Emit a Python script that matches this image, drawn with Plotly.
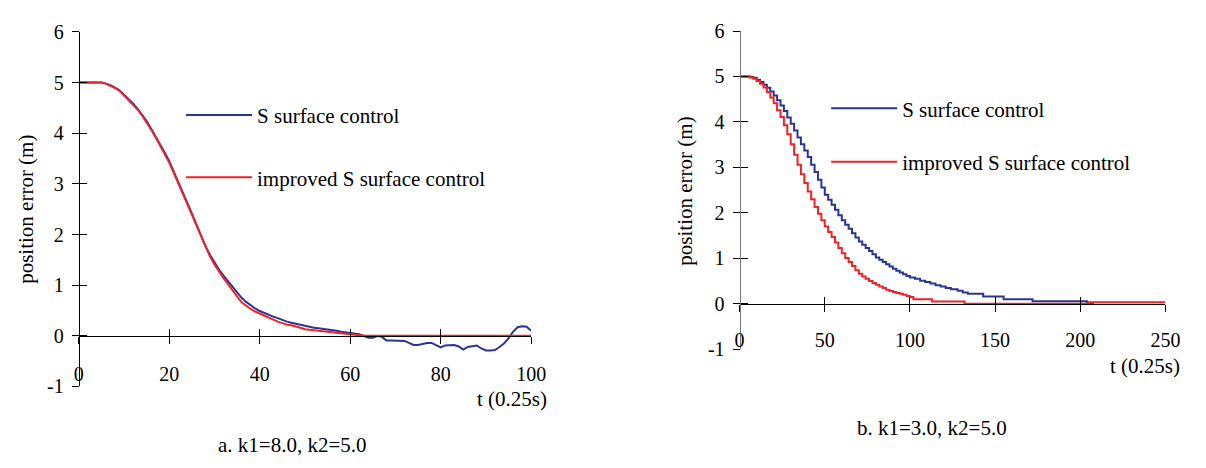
import plotly.graph_objects as go

# ---------------- data ----------------
# chart a: k1=8.0, k2=5.0  (t in units of 0.25 s, 0..100)
t_a = list(range(0, 101))
s_a = [5.00, 5.00, 5.00, 5.00, 5.00, 5.00, 4.98, 4.95, 4.90, 4.85,
       4.76, 4.68, 4.59, 4.48, 4.37, 4.24, 4.09, 3.94, 3.78, 3.62,
       3.45, 3.25, 3.03, 2.84, 2.64, 2.42, 2.20, 1.98, 1.77, 1.60,
       1.45, 1.31, 1.19, 1.08, 0.97, 0.85, 0.75, 0.67, 0.60, 0.54,
       0.49, 0.45, 0.41, 0.38, 0.35, 0.31, 0.28, 0.26, 0.24, 0.21,
       0.19, 0.18, 0.16, 0.15, 0.14, 0.13, 0.11, 0.10, 0.08, 0.07,
       0.05, 0.04, 0.03, 0.00, -0.04, -0.04, 0.00, -0.02, -0.09, -0.09,
       -0.09, -0.09, -0.10, -0.14, -0.18, -0.18, -0.16, -0.14, -0.14, -0.19,
       -0.23, -0.19, -0.18, -0.18, -0.21, -0.27, -0.22, -0.21, -0.19, -0.25,
       -0.29, -0.29, -0.28, -0.22, -0.15, -0.05, 0.08, 0.17, 0.19, 0.18,
       0.10]
imp_a = [5.00, 5.00, 5.00, 5.00, 5.00, 5.00, 4.98, 4.94, 4.89, 4.84,
         4.75, 4.67, 4.58, 4.47, 4.35, 4.22, 4.07, 3.92, 3.76, 3.60,
         3.42, 3.22, 3.01, 2.81, 2.61, 2.40, 2.17, 1.96, 1.75, 1.57,
         1.41, 1.27, 1.14, 1.02, 0.91, 0.78, 0.66, 0.59, 0.53, 0.48,
         0.44, 0.39, 0.35, 0.31, 0.28, 0.25, 0.22, 0.21, 0.19, 0.16,
         0.13, 0.12, 0.11, 0.10, 0.09, 0.07, 0.06, 0.05, 0.04, 0.04,
         0.03, 0.02, 0.00, 0.00, 0.00, 0.00, 0.00, 0.00, 0.00, 0.00,
         0.00, 0.00, 0.00, 0.00, 0.00, 0.00, 0.00, 0.00, 0.00, 0.00,
         0.00, 0.00, 0.00, 0.00, 0.00, 0.00, 0.00, 0.00, 0.00, 0.00,
         0.00, 0.00, 0.00, 0.00, 0.00, 0.00, 0.00, 0.00, 0.00, 0.00,
         0.00]

# chart b: k1=3.0, k2=5.0  (t 0..250)
t_b_s = list(range(0, 101, 2)) + [103, 106, 109, 112, 115, 118, 121, 124,
                                   128, 131, 134, 143, 155, 172, 204, 208]
s_b = [5.00, 5.00, 5.00, 4.99, 4.97, 4.93, 4.88, 4.82, 4.75, 4.67,
       4.58, 4.48, 4.36, 4.24, 4.10, 3.96, 3.81, 3.66, 3.51, 3.37,
       3.23, 3.06, 2.90, 2.73, 2.56, 2.40, 2.29, 2.18, 2.07, 1.95,
       1.84, 1.74, 1.65, 1.55, 1.46, 1.37, 1.30, 1.23, 1.16, 1.09,
       1.02, 0.97, 0.92, 0.87, 0.82, 0.77, 0.73, 0.69, 0.65, 0.61,
       0.58,
       0.55, 0.51, 0.48, 0.45, 0.41, 0.38, 0.35, 0.32,
       0.29, 0.25, 0.22, 0.16, 0.10, 0.055, 0.01, 0.01]
t_b_i = list(range(0, 101, 2)) + [102, 113, 132, 205, 250]
imp_b = [5.00, 5.00, 5.00, 4.98, 4.95, 4.90, 4.84, 4.76, 4.66, 4.54,
         4.41, 4.26, 4.11, 3.93, 3.73, 3.51, 3.28, 3.06, 2.85, 2.66,
         2.47, 2.30, 2.13, 1.98, 1.84, 1.70, 1.58, 1.47, 1.35, 1.23,
         1.11, 1.01, 0.92, 0.83, 0.74, 0.66, 0.60, 0.55, 0.50, 0.46,
         0.42, 0.38, 0.35, 0.31, 0.28, 0.26, 0.24, 0.22, 0.20, 0.17,
         0.15,
         0.10, 0.05, 0.00, 0.035, 0.035]

names = ["S surface control", "improved S surface control"]
captions = ["a. k1=8.0, k2=5.0", "b. k1=3.0, k2=5.0"]
x_ticks_a = [0, 20, 40, 60, 80, 100]
x_ticks_b = [0, 50, 100, 150, 200, 250]
y_ticks = [-1, 0, 1, 2, 3, 4, 5, 6]
y_ticktext = ["-1", "0", "1", "2", "3", "4", "5", "6"]
x_title = "t (0.25s)"
y_title = "position error (m)"

# ---------------- styling ----------------
BLUE = "#2b3590"
RED = "#ee2229"
FONT = "Liberation Serif"
FS_TICK = 20
FS = 21
W, H = 1206, 468

def px_x(p):
    return p / W

def px_y(p):
    return 1 - p / H

dom_xa = [px_x(75), px_x(535)]
dom_ya = [px_y(394), px_y(22)]
dom_xb = [px_x(747), px_x(1180)]
dom_yb = [px_y(355), px_y(21)]
pos_a = dom_ya[0] + (dom_ya[1] - dom_ya[0]) / 7.0
pos_b = dom_yb[0] + (dom_yb[1] - dom_yb[0]) / 7.0

fig = go.Figure()
fig.add_trace(go.Scatter(x=t_a, y=s_a, name=names[0], mode="lines", line=dict(color=BLUE, width=2),
                         xaxis="x", yaxis="y", legend="legend", legendgroup="a1"))
fig.add_trace(go.Scatter(x=t_a, y=imp_a, name=names[1], mode="lines", line=dict(color=RED, width=2),
                         xaxis="x", yaxis="y", legend="legend", legendgroup="a2"))
fig.add_trace(go.Scatter(x=t_b_s, y=s_b, name=names[0], mode="lines", line=dict(color=BLUE, width=2, shape="hv"),
                         xaxis="x2", yaxis="y2", legend="legend2", legendgroup="b1"))
fig.add_trace(go.Scatter(x=t_b_i, y=imp_b, name=names[1], mode="lines", line=dict(color=RED, width=2, shape="hv"),
                         xaxis="x2", yaxis="y2", legend="legend2", legendgroup="b2"))

tickfont = dict(family=FONT, size=FS_TICK, color="black")
textfont = dict(family=FONT, size=FS, color="black")

def xax(dom, rng, ticks, pos, standoff=13, overlay=None, inside=False):
    d = dict(domain=dom, range=rng, tickvals=ticks, anchor="free", position=pos,
             showgrid=False, zeroline=False, ticklen=7, tickcolor="black", tickwidth=1,
             fixedrange=True)
    if inside:
        d.update(ticks="inside", showticklabels=False, showline=False, overlaying=overlay)
    else:
        d.update(ticks="outside", showline=True, linecolor="black", linewidth=1,
                 tickfont=tickfont, ticklabelstandoff=standoff)
    return d

def yax(dom, xdom0, ycol, overlay=None, inside=False):
    d = dict(domain=dom, range=[-1, 6], tickvals=y_ticks, ticktext=y_ticktext,
             anchor="free", position=xdom0,
             showgrid=False, zeroline=False, ticklen=7, tickcolor="black", tickwidth=1,
             fixedrange=True)
    if inside:
        d.update(ticks="inside", showticklabels=False, showline=False, overlaying=overlay)
    else:
        d.update(ticks="outside", showline=True, linecolor=ycol, linewidth=1,
                 tickfont=tickfont, ticklabelstandoff=4)
    return d

fig.update_layout(
    width=W, height=H,
    margin=dict(l=0, r=0, t=0, b=0),
    paper_bgcolor="white", plot_bgcolor="rgba(0,0,0,0)",
    font=textfont,
    xaxis=xax(dom_xa, [0, 100], x_ticks_a, pos_a, 13),
    yaxis=yax(dom_ya, dom_xa[0], "black"),
    xaxis2=xax(dom_xb, [0, 250], x_ticks_b, pos_b, 11),
    yaxis2=yax(dom_yb, dom_xb[0], "#777777"),
    xaxis3=xax(dom_xa, [0, 100], x_ticks_a, pos_a, overlay="x", inside=True),
    yaxis3=yax(dom_ya, dom_xa[0], "black", overlay="y", inside=True),
    xaxis4=xax(dom_xb, [0, 250], x_ticks_b, pos_b, overlay="x2", inside=True),
    yaxis4=yax(dom_yb, dom_xb[0], "#777777", overlay="y2", inside=True),
    legend=dict(x=px_x(179), y=px_y(88), xanchor="left", yanchor="top",
                bgcolor="rgba(0,0,0,0)", itemwidth=66, tracegroupgap=32,
                font=textfont),
    legend2=dict(x=px_x(835), y=px_y(81), xanchor="left", yanchor="top",
                 bgcolor="rgba(0,0,0,0)", itemwidth=66, tracegroupgap=23,
                 font=textfont),
    showlegend=True,
)

# empty traces to activate the overlay (crossing-tick) axes
fig.add_trace(go.Scatter(x=[], y=[], xaxis="x3", yaxis="y3", showlegend=False, hoverinfo="skip"))
fig.add_trace(go.Scatter(x=[], y=[], xaxis="x4", yaxis="y4", showlegend=False, hoverinfo="skip"))

ann = []
ann.append(dict(text=x_title, x=px_x(553), y=px_y(407), xref="paper", yref="paper",
                xanchor="right", yanchor="middle", showarrow=False, font=textfont))
ann.append(dict(text=x_title, x=px_x(1197), y=px_y(372), xref="paper", yref="paper",
                xanchor="right", yanchor="middle", showarrow=False, font=textfont))
ann.append(dict(text=y_title, x=px_x(22), y=px_y(208), xref="paper", yref="paper",
                xanchor="center", yanchor="middle", textangle=-90, showarrow=False, font=textfont))
ann.append(dict(text=y_title, x=px_x(692), y=px_y(189), xref="paper", yref="paper",
                xanchor="center", yanchor="middle", textangle=-90, showarrow=False, font=textfont))
ann.append(dict(text=captions[0], x=px_x(292), y=px_y(455), xref="paper", yref="paper",
                xanchor="center", yanchor="middle", showarrow=False, font=textfont))
ann.append(dict(text=captions[1], x=px_x(943), y=px_y(438), xref="paper", yref="paper",
                xanchor="center", yanchor="middle", showarrow=False, font=textfont))
fig.update_layout(annotations=ann)

fig.write_html("out.html")
